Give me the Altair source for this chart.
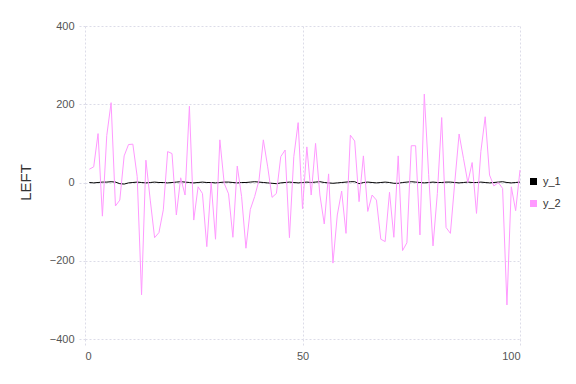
import altair as alt
import pandas as pd

x_vals = list(range(1, 101))
y_1 = [0, -1, 0, 1, 1, 2, 1, -3, -4, -1, 0, 1, 0, -1, 0, 1, 0, 0, -1, 0,
       1, 2, 1, 0, -1, 0, 1, 0, 0, -1, 0, 1, 1, 0, -1, 0, 0, 1, 2, 1,
       0, -1, -2, -3, -1, 0, 1, 0, -1, 0, 1, 0, 1, 2, 0, -1, -2, -1, 0, 1,
       2, 2, -3, 0, 1, 0, -1, 0, 1, 0, -2, -2, 0, 1, 2, 1, 0, -1, 0, 1,
       0, 0, 1, 1, 0, -1, 0, 1, 0, 0, 1, 0, -1, 0, 1, 2, 0, -1, 0, 1]
y_2 = [34, 40, 125, -86, 120, 204, -60, -45, 68, 97,
       98, 15, -287, 57, -45, -141, -128, -70, 79, 74,
       -83, 12, -32, 195, -96, -11, -28, -164, 0, -145,
       109, -2, -29, -140, 42, -36, -168, -69, -36, 6,
       109, 40, -38, -28, 66, 83, -141, 66, 153, -67,
       91, -32, 100, -32, -106, 22, -206, -83, -22, -130,
       121, 106, -49, 68, -74, -32, -45, -145, -151, -25,
       -140, 68, -174, -154, 94, 94, -134, 226, 20, -162,
       -28, 166, -115, -130, 0, 124, 62, 0, 51, -79,
       79, 168, 19, -9, 0, -15, -313, -11, -72, 32]

df = pd.DataFrame({"x": x_vals, "y_1": y_1, "y_2": y_2})
long = df.melt(id_vars="x", var_name="series", value_name="value")

chart = alt.Chart(long).mark_line(strokeWidth=1.0).encode(
    x=alt.X("x:Q", scale=alt.Scale(domain=[0, 100], nice=False),
            axis=alt.Axis(values=[0, 50, 100], title=None)),
    y=alt.Y("value:Q", scale=alt.Scale(domain=[-400, 400], nice=False),
            axis=alt.Axis(values=[-400, -200, 0, 200, 400], title="LEFT",
                          titleAngle=-90, titleX=-60, titleY=156,
                          titleAlign="center", titleBaseline="middle")),
    color=alt.Color("series:N",
                    scale=alt.Scale(domain=["y_1", "y_2"], range=["#000000", "#ff99ff"]),
                    legend=alt.Legend(title=None, orient="none", legendX=443, legendY=150,
                                      symbolType="square", symbolSize=9,
                                      symbolStrokeWidth=4, labelFontSize=11,
                                      labelColor="#333333", labelFont="Liberation Sans",
                                      labelOffset=4, rowPadding=3)),
    order="x:Q",
).properties(
    width=435, height=313,
    background="white",
    autosize=alt.AutoSizeParams(type="none"),
    padding={"left": 85, "top": 26, "right": 56, "bottom": 45},
).configure_view(stroke=None).configure_axis(
    domain=False,
    grid=True,
    gridColor="#dcdce8",
    gridDash=[2, 2],
    gridWidth=1,
    tickColor="#dcdce8",
    tickDash=[2, 2],
    tickSize=8,
    labelColor="#555555",
    labelFont="Liberation Sans",
    labelFontSize=11,
    labelPadding=3,
    titleFont="Liberation Sans",
    titleFontSize=15,
    titleFontWeight="normal",
    titleColor="#333333",
)

chart.save("out.html", embed_options={"renderer": "svg", "actions": False})
